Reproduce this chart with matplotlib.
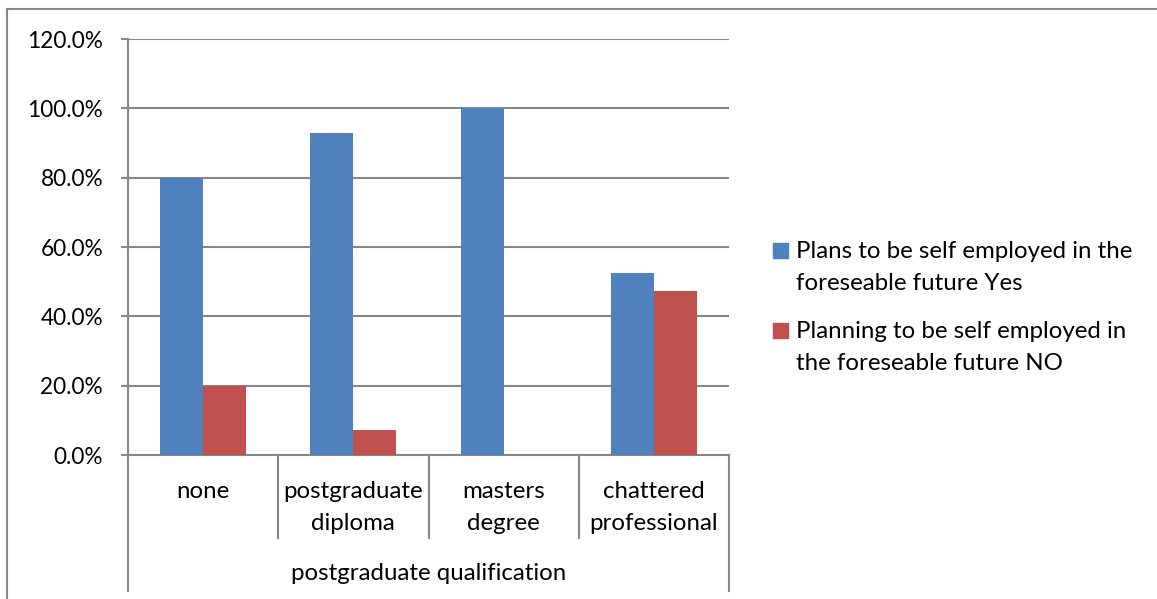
import matplotlib
matplotlib.use("Agg")
import matplotlib.pyplot as plt
from matplotlib.patches import Rectangle
from matplotlib.lines import Line2D
from matplotlib.transforms import blended_transform_factory
from matplotlib.ticker import FuncFormatter, MultipleLocator
import numpy as np

# --- data ---
categories = ["none", "postgraduate\ndiploma", "masters\ndegree", "chattered\nprofessional"]
group_label = "postgraduate qualification"
series_names = [
    "Plans to be self employed in the\nforeseable future Yes",
    "Planning to be self employed in\nthe foreseable future NO",
]
yes_values = [80.0, 92.9, 100.0, 52.6]
no_values = [20.0, 7.1, 0.0, 47.4]
colors = ["#4F81BD", "#C0504D"]

FONT = "Lato"
FS = 17.3
FS_TICK = 16.3
GRID = "#878787"

W, H = 1157, 599
fig = plt.figure(figsize=(W / 100, H / 100), dpi=100)
fig.patch.set_facecolor("white")

def fx(px):
    return px / W

def fy(py):
    return 1 - py / H

left_px, right_px, top_px, bot_px = 128, 729, 39, 455
ax = fig.add_axes([fx(left_px), fy(bot_px), fx(right_px - left_px), (bot_px - top_px) / H])

n = len(categories)
x = np.arange(n)
width = 1 / 3.5
ax.bar(x - width / 2, yes_values, width, color=colors[0], zorder=3)
ax.bar(x + width / 2, no_values, width, color=colors[1], zorder=3)

ax.set_xlim(-0.5, n - 0.5)
ax.set_ylim(0, 120)
ax.yaxis.set_major_locator(MultipleLocator(20))
ax.yaxis.set_major_formatter(FuncFormatter(lambda v, p: f"{v:.1f}%"))
ax.grid(axis="y", color=GRID, linewidth=1.5, zorder=0)
ax.set_axisbelow(True)
for s in ["top", "right"]:
    ax.spines[s].set_visible(False)
for s in ["left", "bottom"]:
    ax.spines[s].set_color(GRID)
    ax.spines[s].set_linewidth(1.5)
ax.tick_params(axis="y", direction="out", length=5, width=1.5, color=GRID, pad=13,
               labelsize=FS_TICK, labelcolor="black")
for t in ax.get_yticklabels():
    t.set_fontfamily(FONT)
ax.set_xticks([])

# category bracket below the axis
tr = blended_transform_factory(ax.transData, ax.transAxes)
ah = bot_px - top_px
inner_bottom = -(538 - bot_px) / ah
outer_bottom = -(591 - bot_px) / ah
for i in range(n + 1):
    xb = i - 0.5
    yb = outer_bottom if i in (0, n) else inner_bottom
    ax.add_line(Line2D([xb, xb], [0, yb], transform=tr, color=GRID, linewidth=1.5, clip_on=False))

line_gap = 31
for i, cat in enumerate(categories):
    for j, line in enumerate(cat.split("\n")):
        ypx = 492 + j * line_gap
        ax.text(i, -(ypx - bot_px) / ah, line, transform=tr, ha="center", va="center",
                fontsize=FS, family=FONT, color="black")
ax.text((n - 1) / 2, -(573 - bot_px) / ah, group_label, transform=tr, ha="center",
        va="center", fontsize=FS, family=FONT, color="black")

# legend
legend_rows = [250, 330]
for name, col, y0 in zip(series_names, colors, legend_rows):
    fig.patches.append(Rectangle((fx(773), fy(y0 + 7.5)), fx(15), 15 / H,
                                 transform=fig.transFigure, color=col))
    for j, line in enumerate(name.split("\n")):
        fig.text(fx(796), fy(y0 + 2 + j * 32), line, ha="left", va="center",
                 fontsize=FS, family=FONT, color="black")

# chart frame
fig.add_artist(Line2D([fx(7), 1], [fy(8.5), fy(8.5)], transform=fig.transFigure,
                      color=GRID, linewidth=1.5))
fig.add_artist(Line2D([fx(7), fx(7)], [fy(8.5), 0], transform=fig.transFigure,
                      color=GRID, linewidth=1.5))

fig.savefig("out.png", dpi=100, facecolor="white")
